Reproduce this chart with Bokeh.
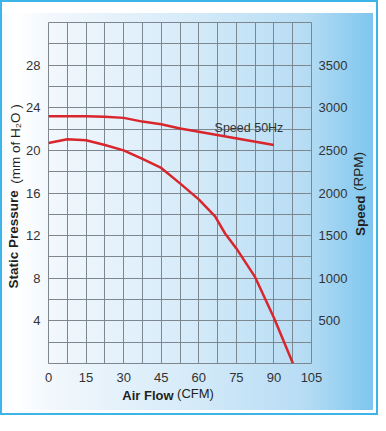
import math
from bokeh.plotting import figure
from bokeh.models import Range1d, LinearAxis, FixedTicker, Label
from bokeh.embed import file_html
from bokeh.resources import INLINE

# ---- data ----
x_ticks = [0, 15, 30, 45, 60, 75, 90, 105]
x_grid = [0, 7.5, 15, 22.5, 30, 37.5, 45, 52.5, 60, 67.5, 75, 82.5, 90, 97.5, 105]
y_ticks = [4, 8, 12, 16, 20, 24, 28]
y_grid = [0, 2, 4, 6, 8, 10, 12, 14, 16, 18, 20, 22, 24, 26, 28, 30, 32]
rpm_ticks = [500, 1000, 1500, 2000, 2500, 3000, 3500]

flow_speed = [0, 15, 22.5, 30, 37.5, 45, 52.5, 60, 90]
speed_pressure = [23.2, 23.2, 23.15, 23.05, 22.7, 22.45, 22.05, 21.75, 20.5]

flow_curve = [0, 7.5, 15, 22.5, 30, 37.5, 45, 52.5, 60, 66.5, 70.5, 75, 82.5, 90, 97.6]
pressure_curve = [20.7, 21.05, 20.95, 20.5, 20.0, 19.2, 18.35, 16.9, 15.4, 13.8, 12.2, 10.8, 8.1, 4.3, 0]

FONT = "Liberation Sans"
GRID = "#7d8790"
RED = "#d8262c"
TXT = "#231f20"

p = figure(frame_width=263, frame_height=341, x_range=Range1d(0, 105), y_range=Range1d(0, 32),
           output_backend="svg", toolbar_location=None,
           min_border_left=48, min_border_right=59, min_border_top=22, min_border_bottom=52,
           border_fill_color=None, background_fill_color=None,
           outline_line_color=GRID, outline_line_width=1,
           styles={
               "background": "linear-gradient(to right, #f7fbfe 0%, #ffffff 4%, #f3f8fd 12%, #d6ebf9 50%, #b6dcf4 82%, #7ec6ee 100%) 2px 13px / 371px 397px no-repeat, #ffffff",
               "box-shadow": "inset 0 0 0 2px #3db4e8",
           })

p.extra_y_ranges = {"rpm": Range1d(0, 4000)}

# grids
p.xgrid.ticker = FixedTicker(ticks=x_grid)
p.ygrid.ticker = FixedTicker(ticks=y_grid)
p.grid.grid_line_color = GRID
p.grid.grid_line_width = 1
p.grid.grid_line_alpha = 1

def style_axis(ax, standoff, size="13px", color="#333333", bold=False):
    ax.axis_line_color = None
    ax.major_tick_line_color = None
    ax.minor_tick_line_color = None
    ax.major_tick_in = 0
    ax.major_tick_out = 0
    ax.major_label_standoff = standoff
    ax.major_label_text_font = FONT
    ax.major_label_text_font_size = size
    ax.major_label_text_color = color
    ax.major_label_text_font_style = "bold" if bold else "normal"

p.xaxis.ticker = FixedTicker(ticks=x_ticks)
p.yaxis.ticker = FixedTicker(ticks=y_ticks)
style_axis(p.xaxis[0], 9)
style_axis(p.yaxis[0], 8)

right = LinearAxis(y_range_name="rpm", ticker=FixedTicker(ticks=rpm_ticks))
style_axis(right, 7)
p.add_layout(right, "right")

# axis titles drawn as single-tick axes (so they sit in the side panels)
def title_axis(side, pos, text, bold, orient, standoff, size):
    ax = LinearAxis(ticker=FixedTicker(ticks=[pos]), major_label_overrides={pos: text},
                    major_label_orientation=orient)
    style_axis(ax, standoff, size=size, color=TXT, bold=bold)
    p.add_layout(ax, side)

title_axis("left", 11.65, "Static Pressure", True, "parallel", 2, "13.5px")
title_axis("left", 20.6, "(mm of H\u2082O )", False, "parallel", -20, "13.5px")

title_axis("right", 11.96, "Speed", True, math.pi / 2, 10, "13.5px")
title_axis("right", 16.19, "(RPM)", False, math.pi / 2, -20, "13.5px")

title_axis("below", 39.7, "Air Flow", True, "horizontal", 3, "13px")
title_axis("below", 58.7, "(CFM)", False, "horizontal", -20, "13px")

# curves
p.line(flow_speed, speed_pressure, line_color=RED, line_width=2.5)
p.line(flow_curve, pressure_curve, line_color=RED, line_width=2.5)

p.add_layout(Label(x=66.3, y=22.08, text="Speed 50Hz", text_align="left",
                   text_baseline="middle", text_font=FONT, text_font_size="12.5px",
                   text_color="#333333"))

open("out.html", "w").write(file_html(p, INLINE))
